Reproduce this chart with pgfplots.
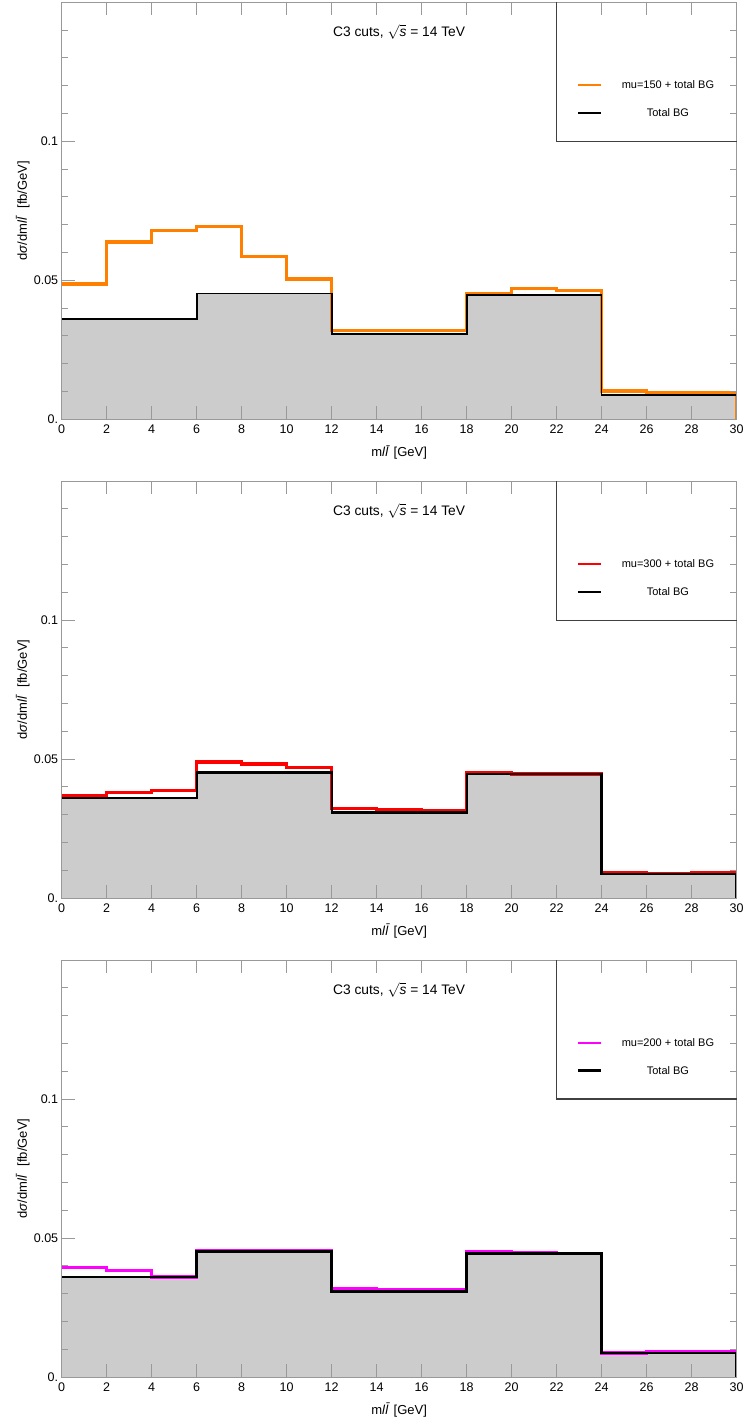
\documentclass[border=0pt]{standalone}
\usepackage{fontspec}
\setmainfont{Liberation Sans}
\usepackage{pgfplots}
\pgfplotsset{compat=1.18}

\definecolor{morange}{rgb}{1,0.5,0}
\definecolor{mred}{rgb}{1,0,0}
\definecolor{mmag}{rgb}{1,0,1}
\definecolor{fillgray}{gray}{0.8}
\definecolor{axgray}{gray}{0.6}

\pgfplotsset{
  geom/.style={
    scale only axis, width=675pt, height=417pt,
    xmin=0, xmax=30, ymin=0, ymax=0.15,
  },
  panel/.style={
    geom,
    xtick={0,2,...,30},
    ytick={0,0.05,0.1}, yticklabels={0.,0.05,0.1},
    minor ytick={0.01,0.02,0.03,0.04,0.06,0.07,0.08,0.09,0.11,0.12,0.13,0.14},
    ytick pos=left,
    tick align=inside,
    major tick length=13pt, minor tick length=6.5pt,
    axis line style={axgray, line width=1pt},
    every tick/.style={axgray, line width=1pt},
    every minor tick/.style={axgray, line width=1pt},
    tick label style={font=\fontsize{12.5}{14}\selectfont, black},
    /pgf/number format/assume math mode=true,
    xticklabel style={yshift=-2pt},
    xlabel={m\textit{l}\textit{\={l}} [GeV]},
    ylabel={d\textit{σ}/dm\textit{l}\textit{\={l}}\ \ [fb/GeV]},
    label style={font=\fontsize{13}{15}\selectfont},
    x label style={at={(axis description cs:0.5,0)}, anchor=center, yshift=-33pt},
    y label style={at={(axis description cs:-0.0578,0.5)}, anchor=center},
    axis on top,
  },
  rticks/.style={
    geom,
    axis x line=none,
    axis y line*=right,
    ytick={0.01,0.02,0.03,0.04,0.05,0.06,0.07,0.08,0.09,0.1,0.11,0.12,0.13,0.14},
    yticklabels={},
    tick align=inside,
    major tick length=6.5pt,
    axis line style={axgray, line width=1pt, -},
    every tick/.style={axgray, line width=1pt},
  },
  sig/.style={const plot, line width=3.4pt, line join=miter},
  bg/.style={const plot, black, line width=2pt, line join=miter},
}

\newcommand{\panelmarks}{%
  \coordinate (LA) at (axis cs:22,0.15);
  \coordinate (LB) at (axis cs:22,0.1);
  \coordinate (LC) at (axis cs:30,0.1);
  \coordinate (S1a) at (axis cs:22.95,0.1203);
  \coordinate (S1b) at (axis cs:23.97,0.1203);
  \coordinate (S2a) at (axis cs:22.95,0.1102);
  \coordinate (S2b) at (axis cs:23.97,0.1102);
  \coordinate (T1) at (axis cs:26.95,0.1203);
  \coordinate (T2) at (axis cs:26.95,0.1102);
  \coordinate (TT) at (axis cs:15,0.1392);
}
\newcommand{\panellegend}[2]{%
  \draw[black!75, line width=1.3pt] (LA) -- (LB) -- (LC);
  \draw[#1, line width=2pt] (S1a) -- (S1b);
  \draw[black, line width=2.5pt] (S2a) -- (S2b);
  \node[font=\fontsize{11}{13}\selectfont] at (T1) {#2};
  \node[font=\fontsize{11}{13}\selectfont] at (T2) {Total BG};
  \node[font=\fontsize{13.8}{15}\selectfont] at (TT) {C3 cuts,\ $\sqrt{\textit{s}}$ = 14 TeV};
}

\begin{document}
\begin{tikzpicture}
% ---------------- Panel 1 ----------------
\begin{axis}[panel, at={(0pt,0pt)}, anchor=south west]
\addplot[fill=fillgray, draw=none, const plot] coordinates
  {(0,0.0361)(6,0.0452)(12,0.0308)(18,0.0446)(24,0.0086)(30,0.0086)} \closedcycle;
\addplot[sig, morange] coordinates
  {(0,0.0486)(2,0.0637)(4,0.0679)(6,0.0693)(8,0.0585)(10,0.0504)(12,0.0320)(14,0.0320)(16,0.0320)(18,0.0450)(20,0.0471)(22,0.0463)(24,0.0101)(26,0.0097)(28,0.0094)(30,0.0094)(30,0)};
\addplot[bg, line width=1.8pt] coordinates
  {(0,0.0361)(6,0.0452)(12,0.0308)(18,0.0446)(24,0.0086)(30,0.0086)(30,0)};
\panelmarks
\end{axis}
\begin{axis}[rticks, at={(0pt,0pt)}, anchor=south west]
\end{axis}
\panellegend{morange}{mu=150 + total BG}
% ---------------- Panel 2 ----------------
\begin{axis}[panel, at={(0pt,-479pt)}, anchor=south west]
\addplot[fill=fillgray, draw=none, const plot] coordinates
  {(0,0.0361)(6,0.0452)(12,0.0308)(18,0.0446)(24,0.0086)(30,0.0086)} \closedcycle;
\addplot[sig, mred] coordinates
  {(0,0.0368)(2,0.0380)(4,0.0387)(6,0.0490)(8,0.0483)(10,0.0469)(12,0.0323)(14,0.0319)(16,0.0314)(18,0.0450)(20,0.0446)(22,0.0447)(24,0.0091)(26,0.0089)(28,0.0091)(30,0.0091)(30,0)};
\addplot[bg, line width=2.2pt] coordinates
  {(0,0.0361)(6,0.0452)(12,0.0308)(18,0.0446)(24,0.0086)(30,0.0086)(30,0)};
\panelmarks
\end{axis}
\begin{axis}[rticks, at={(0pt,-479pt)}, anchor=south west]
\end{axis}
\panellegend{mred}{mu=300 + total BG}
% ---------------- Panel 3 ----------------
\begin{axis}[panel, at={(0pt,-958pt)}, anchor=south west]
\addplot[fill=fillgray, draw=none, const plot] coordinates
  {(0,0.0360)(6,0.0452)(12,0.0307)(18,0.0445)(24,0.0086)(30,0.0086)} \closedcycle;
\addplot[sig, mmag] coordinates
  {(0,0.0394)(2,0.0384)(4,0.0360)(6,0.0453)(8,0.0456)(10,0.0456)(12,0.0319)(14,0.0313)(16,0.0313)(18,0.0450)(20,0.0449)(22,0.0445)(24,0.0087)(26,0.0090)(28,0.0090)(30,0.0090)(30,0)};
\addplot[bg, line width=2.6pt] coordinates
  {(0,0.0360)(6,0.0452)(12,0.0307)(18,0.0445)(24,0.0086)(30,0.0086)(30,0)};
\panelmarks
\end{axis}
\begin{axis}[rticks, at={(0pt,-958pt)}, anchor=south west]
\end{axis}
\panellegend{mmag}{mu=200 + total BG}
\pgfresetboundingbox
\path[use as bounding box] (-61.7pt,-1006pt) rectangle (683.3pt,419.3pt);
\end{tikzpicture}
\end{document}
